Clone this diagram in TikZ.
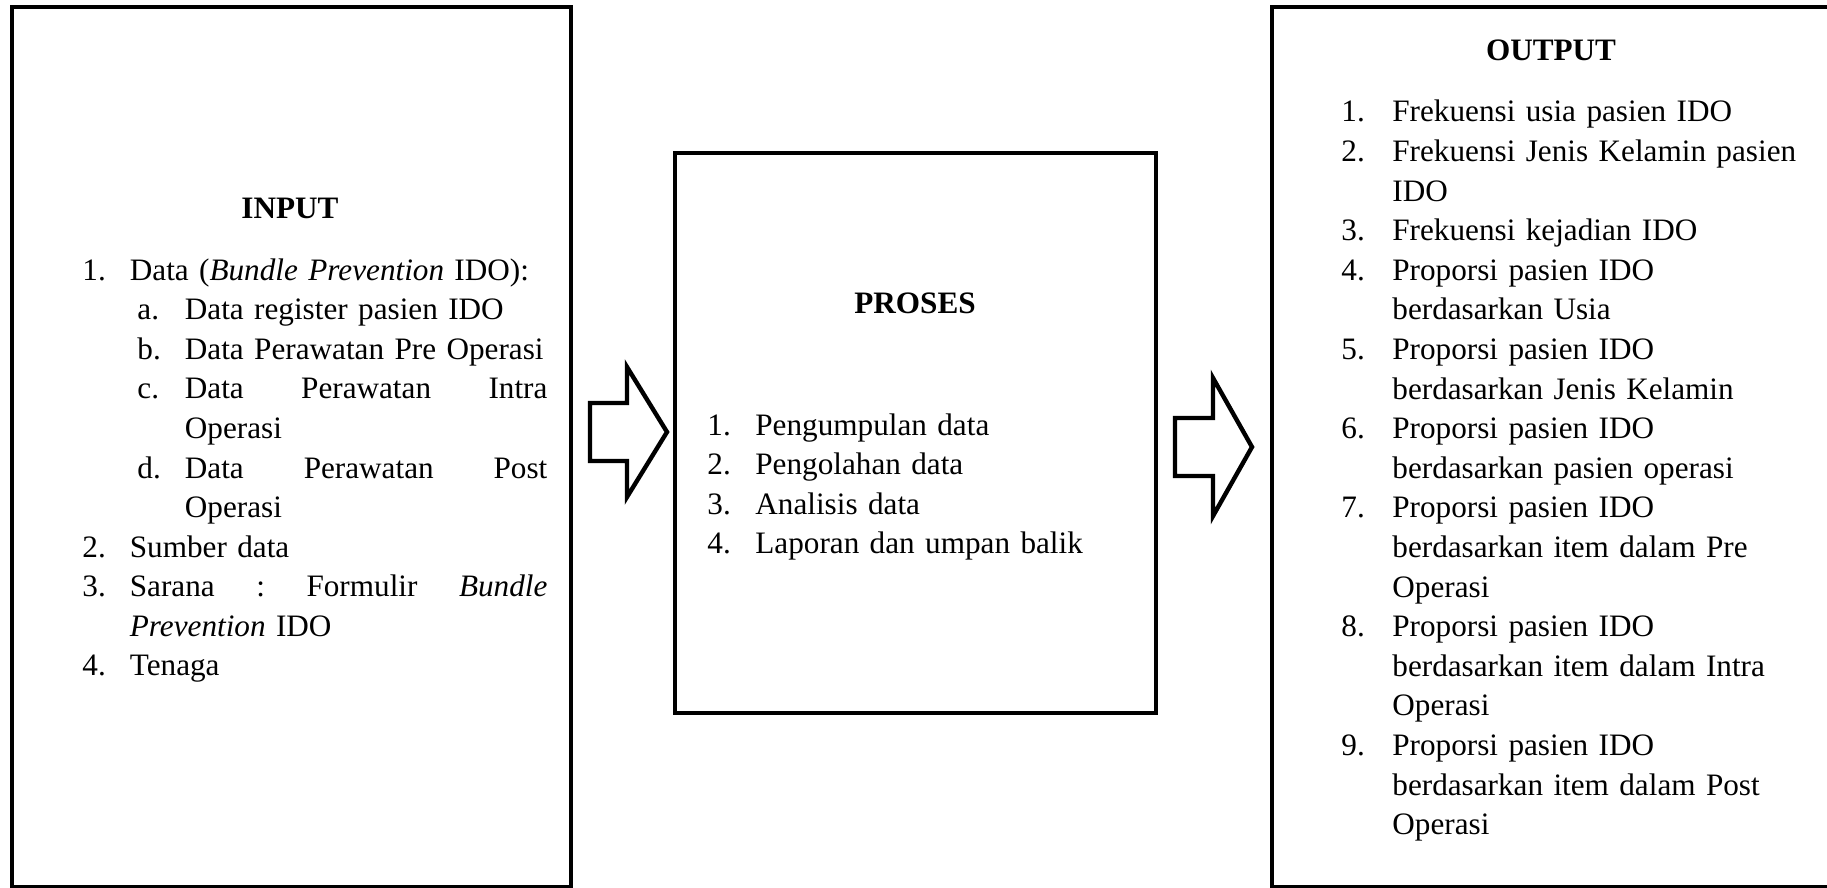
\documentclass[tikz,border=0pt]{standalone}
\usepackage{fontspec}
\setmainfont{Liberation Serif}
\hyphenpenalty=10000
\tikzset{
  box/.style={draw,line width=2pt},
  barrow/.style={draw,line width=2.2pt,fill=white,line join=miter},
  hd/.style={font=\bfseries\fontsize{15.6}{19.8}\selectfont,inner sep=0pt,anchor=base},
  lst/.style={font=\fontsize{15.6}{19.8}\selectfont,inner sep=0pt,align=left,anchor=base west},
}
\newcommand{\lab}[2][23.75pt]{\makebox[#1][l]{#2}}

\begin{document}
\begin{tikzpicture}[x=0.5pt,y=-0.5pt]
\useasboundingbox (0,0) rectangle (1827,888);
% three boxes
\draw[box] (11.5,7) rectangle (571,887);
\draw[box] (675,153) rectangle (1156,713);
\draw[box] (1272,7) rectangle (1831,887);
% block arrows
\draw[barrow] (590,403) -- (627,403) -- (627,367) -- (667,432) -- (627,497) -- (627,461) -- (590,461) -- cycle;
\draw[barrow] (1175,418) -- (1213,418) -- (1213,378) -- (1252,447) -- (1213,516) -- (1213,476) -- (1175,476) -- cycle;
% input
\node[hd] (inhd) at (290,219) {INPUT};
\node[lst,text width=232.5pt] (inlist) at (82,280) {%
\lab{1.}Data (\textit{Bundle Prevention} IDO):\\
\hspace*{27.5pt}\lab{a.}Data register pasien IDO\\
\hspace*{27.5pt}\mbox{\lab{b.}Data Perawatan Pre Operasi}\\
\hspace*{27.5pt}\lab{c.}Data\hfill Perawatan\hfill Intra\\
\hspace*{51.25pt}Operasi\\
\hspace*{27.5pt}\lab{d.}Data\hfill Perawatan\hfill Post\\
\hspace*{51.25pt}Operasi\\
\lab{2.}Sumber data\\
\lab{3.}Sarana\hfill :\hfill Formulir\hfill \textit{Bundle}\\
\hspace*{23.75pt}\textit{Prevention} IDO\\
\lab{4.}Tenaga};
% proses
\node[hd] (prhd) at (915,313) {PROSES};
\node[lst,text width=200pt] (prlist) at (707,435) {%
\lab[24pt]{1.}Pengumpulan data\\
\lab[24pt]{2.}Pengolahan data\\
\lab[24pt]{3.}Analisis data\\
\lab[24pt]{4.}Laporan dan umpan balik};
% output
\node[hd] (outhd) at (1551,61) {OUTPUT};
\node[lst,text width=235pt] (outlist) at (1341,122) {%
\lab[25.5pt]{1.}Frekuensi usia pasien IDO\\
\lab[25.5pt]{2.}Frekuensi Jenis Kelamin pasien\\
\hspace*{25.5pt}IDO\\
\lab[25.5pt]{3.}Frekuensi kejadian IDO\\
\lab[25.5pt]{4.}Proporsi pasien IDO\\
\hspace*{25.5pt}berdasarkan Usia\\
\lab[25.5pt]{5.}Proporsi pasien IDO\\
\hspace*{25.5pt}berdasarkan Jenis Kelamin\\
\lab[25.5pt]{6.}Proporsi pasien IDO\\
\hspace*{25.5pt}berdasarkan pasien operasi\\
\lab[25.5pt]{7.}Proporsi pasien IDO\\
\hspace*{25.5pt}berdasarkan item dalam Pre\\
\hspace*{25.5pt}Operasi\\
\lab[25.5pt]{8.}Proporsi pasien IDO\\
\hspace*{25.5pt}berdasarkan item dalam Intra\\
\hspace*{25.5pt}Operasi\\
\lab[25.5pt]{9.}Proporsi pasien IDO\\
\hspace*{25.5pt}berdasarkan item dalam Post\\
\hspace*{25.5pt}Operasi};
\end{tikzpicture}
\end{document}
